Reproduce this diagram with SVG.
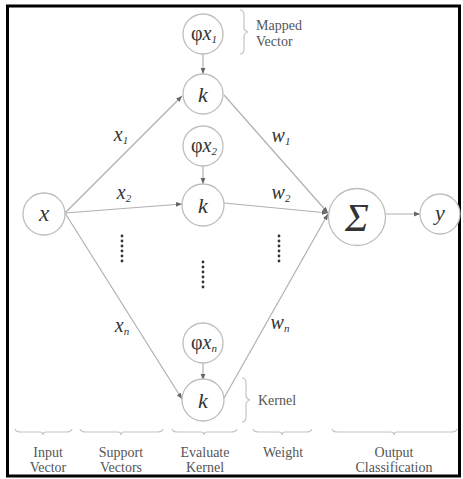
<svg xmlns="http://www.w3.org/2000/svg" width="463" height="479" viewBox="0 0 463 479" font-family="'Liberation Serif', 'Times New Roman', serif">
<style>
.node{fill:#fff;stroke:#bdbdbd;stroke-width:1.3}
.edge{stroke:#b0b0b0;stroke-width:1.2;fill:none}
.brace{stroke:#c4c4c4;stroke-width:1.2;fill:none}
.lbl{font-family:'Liberation Serif','Times New Roman',serif;font-style:italic;fill:#333;text-anchor:middle}
.cap{font-family:'Liberation Serif','Times New Roman',serif;font-size:14px;fill:#555;text-anchor:middle}
.note{font-family:'Liberation Serif','Times New Roman',serif;font-size:14px;fill:#555}
.dot{fill:#333}
</style>
<defs>
<marker id="arr" viewBox="0 0 10 10" refX="10" refY="5" markerWidth="6" markerHeight="6" markerUnits="userSpaceOnUse" orient="auto">
<path d="M0,1 L10,5 L0,9 z" fill="#666"/>
</marker>
</defs>
<rect x="7.5" y="6" width="452" height="470" fill="#fff" stroke="#000" stroke-width="3"/>
<g id="connectors">
<line class="edge" x1="65" y1="213" x2="182" y2="96" marker-end="url(#arr)"/>
<line class="edge" x1="65" y1="213" x2="182" y2="204" marker-end="url(#arr)"/>
<line class="edge" x1="65" y1="213" x2="182" y2="399" marker-end="url(#arr)"/>
<line class="edge" x1="224" y1="95" x2="328" y2="213" marker-end="url(#arr)"/>
<line class="edge" x1="224" y1="203" x2="328" y2="213" marker-end="url(#arr)"/>
<line class="edge" x1="224" y1="398" x2="328" y2="214" marker-end="url(#arr)"/>
<line class="edge" x1="203" y1="54" x2="203" y2="74" marker-end="url(#arr)"/>
<line class="edge" x1="203" y1="166" x2="203" y2="184" marker-end="url(#arr)"/>
<line class="edge" x1="203" y1="363" x2="203" y2="380" marker-end="url(#arr)"/>
<line class="edge" x1="386" y1="214" x2="420" y2="214" marker-end="url(#arr)"/>
</g>
<g id="edge-labels">
<text class="lbl" font-size="20" x="121" y="141">x<tspan font-size="11" dy="3">1</tspan></text>
<text class="lbl" font-size="20" x="124" y="199">x<tspan font-size="11" dy="3">2</tspan></text>
<text class="lbl" font-size="20" x="122" y="332">x<tspan font-size="11" dy="3">n</tspan></text>
<text class="lbl" font-size="20" x="281" y="142">w<tspan font-size="11" dy="3">1</tspan></text>
<text class="lbl" font-size="20" x="281" y="199">w<tspan font-size="11" dy="3">2</tspan></text>
<text class="lbl" font-size="20" x="280" y="329">w<tspan font-size="11" dy="3">n</tspan></text>
</g>
<g id="dots">
<circle class="dot" cx="122" cy="236" r="1.4"/><circle class="dot" cx="122" cy="241" r="1.4"/><circle class="dot" cx="122" cy="246" r="1.4"/><circle class="dot" cx="122" cy="251" r="1.4"/><circle class="dot" cx="122" cy="256" r="1.4"/><circle class="dot" cx="122" cy="261" r="1.4"/>
<circle class="dot" cx="203" cy="262" r="1.4"/><circle class="dot" cx="203" cy="267" r="1.4"/><circle class="dot" cx="203" cy="272" r="1.4"/><circle class="dot" cx="203" cy="277" r="1.4"/><circle class="dot" cx="203" cy="282" r="1.4"/><circle class="dot" cx="203" cy="287" r="1.4"/>
<circle class="dot" cx="279" cy="236" r="1.4"/><circle class="dot" cx="279" cy="241" r="1.4"/><circle class="dot" cx="279" cy="246" r="1.4"/><circle class="dot" cx="279" cy="251" r="1.4"/><circle class="dot" cx="279" cy="256" r="1.4"/><circle class="dot" cx="279" cy="261" r="1.4"/>
</g>
<g id="node-x"><circle class="node" cx="44" cy="214" r="21"/><text class="lbl" font-size="23" x="44" y="221">x</text></g>
<g id="node-phix1"><circle class="node" cx="203" cy="34" r="20"/><text class="lbl" font-size="20" x="204" y="40"><tspan font-style="normal">φ</tspan>x<tspan font-size="11" dy="3">1</tspan></text></g>
<g id="node-k1"><circle class="node" cx="203" cy="94" r="20"/><text class="lbl" font-size="22" x="203" y="102">k</text></g>
<g id="node-phix2"><circle class="node" cx="203" cy="146" r="20"/><text class="lbl" font-size="20" x="204" y="152"><tspan font-style="normal">φ</tspan>x<tspan font-size="11" dy="3">2</tspan></text></g>
<g id="node-k2"><circle class="node" cx="203" cy="205" r="21"/><text class="lbl" font-size="22" x="203" y="213">k</text></g>
<g id="node-phixn"><circle class="node" cx="203" cy="343" r="20"/><text class="lbl" font-size="20" x="204" y="349"><tspan font-style="normal">φ</tspan>x<tspan font-size="11" dy="3">n</tspan></text></g>
<g id="node-kn"><circle class="node" cx="203" cy="400" r="21"/><text class="lbl" font-size="22" x="203" y="408">k</text></g>
<g id="node-sum"><circle class="node" cx="357" cy="217" r="28.5"/><text class="lbl" font-size="40" font-style="normal" x="357" y="231">Σ</text></g>
<g id="node-y"><circle class="node" cx="440" cy="214" r="20"/><text class="lbl" font-size="22" x="440" y="220">y</text></g>
<g id="annotations">
<path class="brace" d="M240,10 q4,0 4,5 L244,27 q0,4 4,5 q-4,1 -4,5 L244,49 q0,5 -4,5"/>
<text class="note" x="256" y="30">Mapped</text>
<text class="note" x="256" y="46">Vector</text>
<path class="brace" d="M242,378 q4,0 4,5 L246,395 q0,4 4,5 q-4,1 -4,5 L246,417 q0,5 -4,5"/>
<text class="note" x="258" y="405">Kernel</text>
<path class="brace" d="M15,429 q1,3 6,3 L40,432 q3,0 3,3 q0,-3 3,-3 L66,432 q5,0 6,-3"/>
<path class="brace" d="M80,429 q1,3 6,3 L118,432 q3,0 3,3 q0,-3 3,-3 L157,432 q5,0 6,-3"/>
<path class="brace" d="M172,429 q1,3 6,3 L201,432 q3,0 3,3 q0,-3 3,-3 L231,432 q5,0 6,-3"/>
<path class="brace" d="M253,429 q1,3 6,3 L279,432 q3,0 3,3 q0,-3 3,-3 L306,432 q5,0 6,-3"/>
<path class="brace" d="M332,429 q1,3 6,3 L391,432 q3,0 3,3 q0,-3 3,-3 L451,432 q5,0 6,-3"/>
<text class="cap" x="48" y="457">Input</text>
<text class="cap" x="48" y="472">Vector</text>
<text class="cap" x="121" y="457">Support</text>
<text class="cap" x="121" y="472">Vectors</text>
<text class="cap" x="205" y="457">Evaluate</text>
<text class="cap" x="205" y="472">Kernel</text>
<text class="cap" x="283" y="457">Weight</text>
<text class="cap" x="394" y="457">Output</text>
<text class="cap" x="394" y="472">Classification</text>
</g>
</svg>
